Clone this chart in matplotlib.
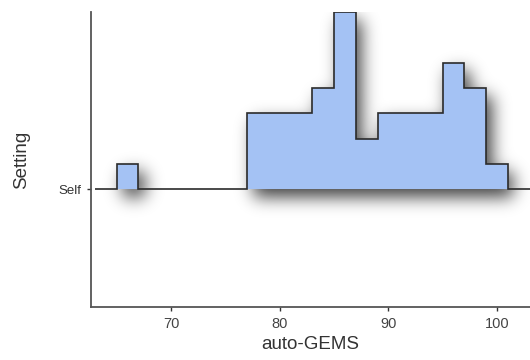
import matplotlib
matplotlib.use('Agg')
import matplotlib.pyplot as plt
import numpy as np

plt.rcParams['font.family'] = ['Liberation Sans', 'DejaVu Sans']

# histogram of auto-GEMS scores (bin width 2)
bin_edges = [65, 67, 69, 71, 73, 75, 77, 79, 81, 83, 85, 87, 89, 91, 93, 95, 97, 99, 101]
counts = [1, 0, 0, 0, 0, 0, 3, 3, 3, 4, 7, 2, 3, 3, 3, 5, 4, 1]
setting = ['Self']
x_ticks = [70, 80, 90, 100]

xmin, xmax = 62.64, 103.03
ymin, ymax = -4.66, 7.02
fill_col = '#A4C2F4'
line_col = '#2b2b2b'

fig = plt.figure(figsize=(5.3, 3.6), dpi=100)
ax = fig.add_axes([0.1717, 0.147, 0.8283, 0.82])

# blurred drop shadow under the ridge
nx, ny = 440, 296
gx = np.linspace(xmin, xmax, nx)
gy = np.linspace(ymin, ymax, ny)
edges = np.array(bin_edges)
h = np.zeros(nx)
idx = np.searchsorted(edges, gx, side='right') - 1
ok = (idx >= 0) & (idx < len(counts))
h[ok] = np.array(counts)[idx[ok]]
mask = ((gy[:, None] >= 0) & (gy[:, None] <= h[None, :])).astype(float)
sig = 8.5
k = np.arange(-26, 27)
ker = np.exp(-k ** 2 / (2 * sig ** 2))
ker /= ker.sum()
pad = 30
big = np.pad(mask, pad)
big = np.apply_along_axis(lambda r: np.convolve(r, ker, mode='same'), 1, big)
big = np.apply_along_axis(lambda c: np.convolve(c, ker, mode='same'), 0, big)
shift_x, shift_y = 6, 8
blur = big[pad + shift_y:pad + shift_y + ny, pad - shift_x:pad - shift_x + nx]
img = np.zeros((ny, nx, 4))
img[..., 3] = np.clip(blur * 0.75, 0, 1)
ax.imshow(img, extent=[xmin, xmax, ymin, ymax], origin='lower', aspect='auto',
          interpolation='bilinear', zorder=1)

ax.stairs(counts, bin_edges, baseline=0, fill=True, facecolor=fill_col,
          edgecolor='none', zorder=2)
line_edges = [63.0] + bin_edges + [xmax + 1]
line_counts = [0] + counts + [0]
ax.stairs(line_counts, line_edges, baseline=None, color=line_col, lw=1.2, zorder=3)

ax.set_xlim(xmin, xmax)
ax.set_ylim(ymin, ymax)
ax.set_xticks(x_ticks)
ax.set_xticklabels([str(t) for t in x_ticks], fontsize=10.5, color='#444444')
ax.set_yticks([0])
ax.set_yticklabels(setting, fontsize=9.5, color='#333333')
ax.tick_params(axis='both', length=3, width=1, color='#333333', pad=4)
for s in ['top', 'right']:
    ax.spines[s].set_visible(False)
for s in ['left', 'bottom']:
    ax.spines[s].set_color('#555555')
    ax.spines[s].set_linewidth(1.3)
ax.set_xlabel('auto-GEMS', fontsize=13.5, color='#333333', labelpad=4)
ax.set_ylabel('Setting', fontsize=13.5, color='#333333', labelpad=20)
ax.patch.set_alpha(0)

plt.savefig('out.png', dpi=100)
